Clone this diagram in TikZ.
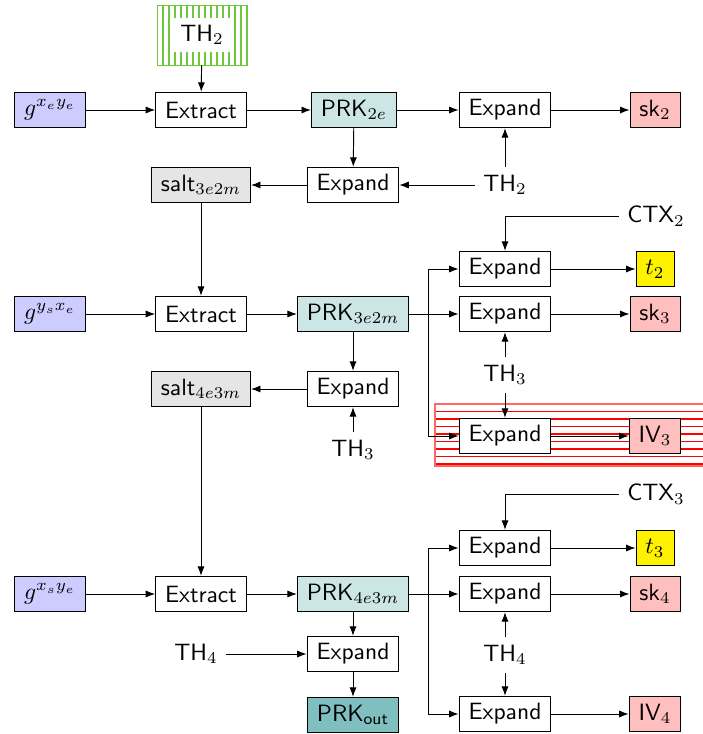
\documentclass[tikz,border=0pt]{standalone}
\usepackage{amsmath}
\usetikzlibrary{arrows.meta, positioning}
\definecolor{hatchgreen}{RGB}{110,200,60}
\definecolor{keyblue}{RGB}{204,204,255}
\definecolor{prkteal}{RGB}{204,230,230}
\definecolor{prkdark}{RGB}{128,191,191}

\begin{document}
\begin{tikzpicture}[x=0.0149cm, y=-0.0149cm,
    every node/.style={font=\sffamily},
    box/.style={draw, fill=white, minimum height=15pt, inner xsep=4pt, inner ysep=2pt},
    keybox/.style={box, fill=keyblue},
    prkbox/.style={box, fill=prkteal},
    outbox/.style={box, fill=red!25},
    tagbox/.style={box, fill=yellow},
    saltbox/.style={box, fill=gray!20},
    arr/.style={-{Latex[length=4pt,width=3pt]}}]
    \useasboundingbox (0,0) rectangle (703,734);

    % Hatched areas
    \foreach \x in {163,169,...,247}
        \draw[hatchgreen, line width=0.5pt] (\x,5) -- (\x,65);
    \node[draw=hatchgreen, minimum width=90*0.0149cm, minimum height=60*0.0149cm] (th2box) at (202,35) {};
    \node[fill=white, inner xsep=3pt, inner ysep=3pt] (th2top) at (th2box) {TH$_2$};
    \foreach \y in {411.5,419,...,466}
        \draw[red, line width=0.6pt] (435,\y) -- (710,\y);
    \draw[red!60, line width=0.6pt] (710,404) -- (435,404) -- (435,466) -- (710,466);

    % First stage
    \node[keybox] (g1) at (50,110) {$g^{x_e y_e}$};
    \node[box] (ext1) at (201,110) {Extract};
    \node[prkbox] (prk1) at (354,110) {PRK$_{2e}$};
    \node[box] (exp1) at (505,110) {Expand};
    \node[outbox] (sk2) at (655,110) {sk$_2$};
    \node[box] (expm1) at (353,185) {Expand};
    \node[saltbox] (salt1) at (201,185) {salt$_{3e2m}$};
    \node (th2) at (505,185) {TH$_2$};

    % Second stage
    \node (ctx2) at (656,216) {CTX$_2$};
    \node[box] (expt2) at (505,269) {Expand};
    \node[tagbox] (t2) at (655,269) {$t_2$};
    \node[keybox] (g2) at (50,314) {$g^{y_s x_e}$};
    \node[box] (ext2) at (201,314) {Extract};
    \node[prkbox] (prk2) at (353,314) {PRK$_{3e2m}$};
    \node[box] (exps3) at (505,314) {Expand};
    \node[outbox] (sk3) at (655,314) {sk$_3$};
    \node (th3) at (505,375) {TH$_3$};
    \node[box] (expm2) at (353,389) {Expand};
    \node[saltbox] (salt2) at (201,389) {salt$_{4e3m}$};
    \node (th3m) at (353,450) {TH$_3$};
    \node[box] (expiv3) at (505,436) {Expand};
    \node[outbox] (iv3) at (655,436) {IV$_3$};

    % Third stage
    \node (ctx3) at (656,494) {CTX$_3$};
    \node[box] (expt3) at (505,548) {Expand};
    \node[tagbox] (t3) at (655,548) {$t_3$};
    \node[keybox] (g3) at (50,594) {$g^{x_s y_e}$};
    \node[box] (ext3) at (201,594) {Extract};
    \node[prkbox] (prk3) at (353,594) {PRK$_{4e3m}$};
    \node[box] (exps4) at (505,594) {Expand};
    \node[outbox] (sk4) at (655,594) {sk$_4$};
    \node (th4) at (505,655) {TH$_4$};
    \node[box] (expm3) at (353,654) {Expand};
    \node (th4l) at (196,654) {TH$_4$};
    \node[box, fill=prkdark] (prkout) at (353,715) {PRK$_{\textsf{out}}$};
    \node[box] (expiv4) at (505,714) {Expand};
    \node[outbox] (iv4) at (655,714) {IV$_4$};

    % Forks
    \coordinate (fork2) at (428,314);
    \coordinate (fork3) at (428,594);

    % Connectors, first stage
    \draw[arr] (th2box) -- (ext1);
    \draw[arr] (g1) -- (ext1);
    \draw[arr] (ext1) -- (prk1);
    \draw[arr] (prk1) -- (exp1);
    \draw[arr] (exp1) -- (sk2);
    \draw[arr] (prk1) -- (expm1);
    \draw[arr] (expm1) -- (salt1);
    \draw[arr] (th2) -- (expm1);
    \draw[arr] (th2) -- (exp1);
    \draw[arr] (salt1) -- (ext2);

    % Connectors, second stage
    \draw[arr] (ctx2.west) -| (expt2.north);
    \draw[arr] (g2) -- (ext2);
    \draw[arr] (ext2) -- (prk2);
    \draw[arr] (prk2) -- (exps3);
    \draw[arr] (fork2) |- (expt2.west);
    \draw[arr] (fork2) |- (expiv3.west);
    \draw[arr] (expt2) -- (t2);
    \draw[arr] (exps3) -- (sk3);
    \draw[arr] (expiv3) -- (iv3);
    \draw[arr] (th3) -- (exps3);
    \draw[arr] (th3) -- (expiv3);
    \draw[arr] (prk2) -- (expm2);
    \draw[arr] (expm2) -- (salt2);
    \draw[arr] (th3m) -- (expm2);
    \draw[arr] (salt2) -- (ext3);

    % Connectors, third stage
    \draw[arr] (ctx3.west) -| (expt3.north);
    \draw[arr] (g3) -- (ext3);
    \draw[arr] (ext3) -- (prk3);
    \draw[arr] (prk3) -- (exps4);
    \draw[arr] (fork3) |- (expt3.west);
    \draw[arr] (fork3) |- (expiv4.west);
    \draw[arr] (expt3) -- (t3);
    \draw[arr] (exps4) -- (sk4);
    \draw[arr] (expiv4) -- (iv4);
    \draw[arr] (th4) -- (exps4);
    \draw[arr] (th4) -- (expiv4);
    \draw[arr] (prk3) -- (expm3);
    \draw[arr] (th4l) -- (expm3);
    \draw[arr] (expm3) -- (prkout);
\end{tikzpicture}
\end{document}
